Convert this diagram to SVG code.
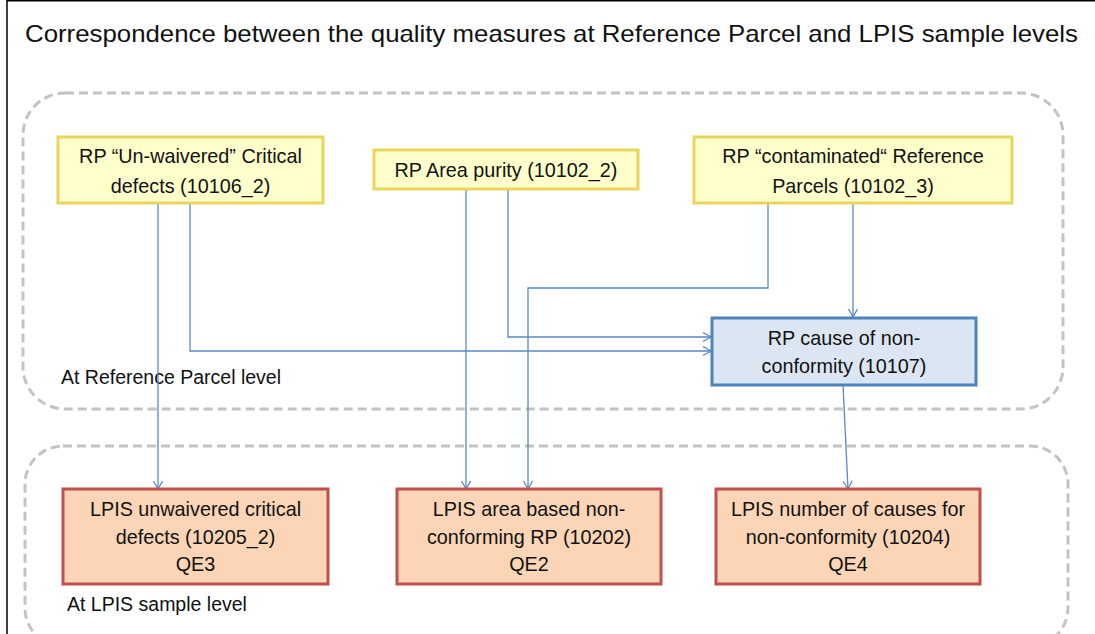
<svg xmlns="http://www.w3.org/2000/svg" width="1095" height="634" viewBox="0 0 1095 634">
  <defs>
    <style>
      .frame { fill: none; stroke: #000; stroke-width: 1.5; }
      .zone { fill: none; stroke: #c3c3c3; stroke-width: 3; stroke-dasharray: 9 5; }
      .rp { fill: #ffffcc; stroke: #e8d55e; stroke-width: 3; }
      .cause { fill: #dce6f2; stroke: #4f81bd; stroke-width: 3; }
      .lpis { fill: #fbd5b5; stroke: #c0504d; stroke-width: 3; }
      text { font-family: "Liberation Sans", Arial, sans-serif; fill: #111; }
      .title { font-size: 24px; }
      .lbl { font-size: 19.8px; text-anchor: middle; }
      .zlbl { font-size: 19.5px; }
      .link { fill: none; stroke: #5a88c6; stroke-width: 1.3; marker-end: url(#arrow); }
    </style>
    <marker id="arrow" markerUnits="userSpaceOnUse" markerWidth="12" markerHeight="12" refX="9" refY="5" orient="auto">
      <path d="M1,0.5 L9,5 L1,9.5" fill="none" stroke="#5a88c6" stroke-width="1.3"/>
    </marker>
  </defs>

  <!-- slide frame -->
  <path class="frame" d="M7,634 V0.75 H1095"/>

  <text class="title" x="25" y="42" textLength="1053" lengthAdjust="spacingAndGlyphs">Correspondence between the quality measures at Reference Parcel and LPIS sample levels</text>

  <!-- level zones -->
  <g id="zone-rp">
    <rect class="zone" x="23" y="93" width="1040" height="316" rx="42" ry="42"/>
    <text class="zlbl" x="61" y="384">At Reference Parcel level</text>
  </g>
  <g id="zone-lpis">
    <rect class="zone" x="25" y="446" width="1043" height="200" rx="38" ry="38"/>
    <text class="zlbl" x="67" y="611">At LPIS sample level</text>
  </g>

  <!-- connectors -->
  <g id="connectors">
    <path class="link" d="M158,203 V489"/>
    <path class="link" d="M190,203 V351 H711"/>
    <path class="link" d="M466,189 V489"/>
    <path class="link" d="M508,189 V337 H711"/>
    <path class="link" d="M768,203 V288 H528 V489"/>
    <path class="link" d="M853,203 V317"/>
    <path class="link" d="M843,385 L848,489"/>
  </g>

  <!-- reference parcel measures -->
  <g id="rp-critical-defects">
    <rect class="rp" x="58" y="137" width="265" height="66"/>
    <text class="lbl" x="190.5" y="163">RP “Un-waivered” Critical</text>
    <text class="lbl" x="190.5" y="193">defects (10106_2)</text>
  </g>
  <g id="rp-area-purity">
    <rect class="rp" x="374" y="150" width="264" height="39"/>
    <text class="lbl" x="506" y="177">RP Area purity (10102_2)</text>
  </g>
  <g id="rp-contaminated">
    <rect class="rp" x="694" y="137" width="318" height="66"/>
    <text class="lbl" x="853" y="163">RP “contaminated“ Reference</text>
    <text class="lbl" x="853" y="193">Parcels (10102_3)</text>
  </g>
  <g id="rp-cause">
    <rect class="cause" x="712" y="318" width="264" height="67"/>
    <text class="lbl" x="844" y="345">RP cause of non-</text>
    <text class="lbl" x="844" y="373">conformity (10107)</text>
  </g>

  <!-- LPIS sample measures -->
  <g id="lpis-critical-defects">
    <rect class="lpis" x="63" y="489" width="265" height="95"/>
    <text class="lbl" x="195.5" y="516">LPIS unwaivered critical</text>
    <text class="lbl" x="195.5" y="544">defects (10205_2)</text>
    <text class="lbl" x="195.5" y="571">QE3</text>
  </g>
  <g id="lpis-non-conforming">
    <rect class="lpis" x="397" y="489" width="264" height="95"/>
    <text class="lbl" x="529" y="516">LPIS area based non-</text>
    <text class="lbl" x="529" y="544">conforming RP (10202)</text>
    <text class="lbl" x="529" y="571">QE2</text>
  </g>
  <g id="lpis-causes">
    <rect class="lpis" x="716" y="489" width="264" height="95"/>
    <text class="lbl" x="848" y="516">LPIS number of causes for</text>
    <text class="lbl" x="848" y="544">non-conformity (10204)</text>
    <text class="lbl" x="848" y="571">QE4</text>
  </g>
</svg>
